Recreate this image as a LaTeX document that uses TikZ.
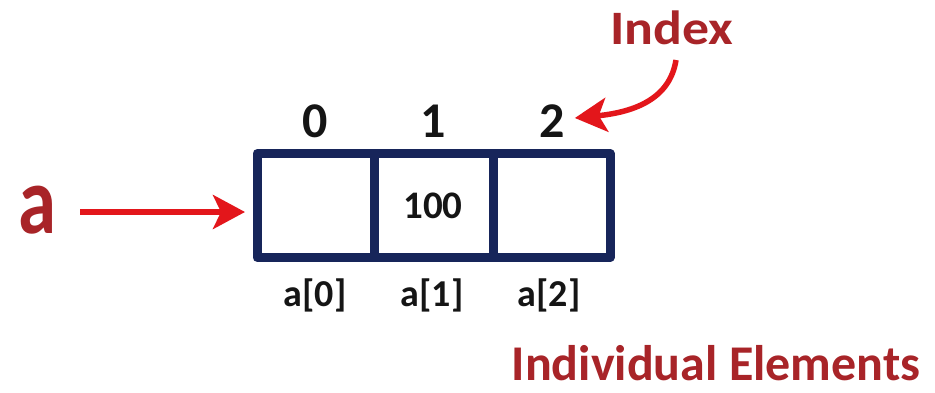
\documentclass[tikz,border=0pt]{standalone}
\usepackage{fontspec}
\setmainfont{Carlito}
\usetikzlibrary{arrows.meta}
\definecolor{navy}{HTML}{17255A}
\definecolor{txtred}{HTML}{A82428}
\definecolor{arrred}{HTML}{E3161B}
\definecolor{ink}{HTML}{151515}
\tikzset{
  cell/.style={draw=navy, line width=9pt, line join=round, inner sep=0pt, outer sep=0pt, minimum height=104pt},
  idx/.style={inner sep=0pt, text=ink, font=\bfseries\fontsize{50}{60}\selectfont},
  elem/.style={inner sep=0pt, text=ink, font=\bfseries\fontsize{38}{46}\selectfont},
  val/.style={inner sep=0pt, text=ink, font=\bfseries\fontsize{39}{46}\selectfont},
  redtxt/.style={inner sep=0pt, text=txtred, font=\bfseries\fontsize{48}{58}\selectfont},
  redarrow/.style={draw=arrred, line width=5.5pt, -{Stealth[length=32pt, width=34pt, inset=8pt]}},
}
\begin{document}
\begin{tikzpicture}[x=1pt, y=-1pt]
\useasboundingbox[fill=white] (0,0) rectangle (935,392);
% array cells
\node[cell, minimum width=117pt] (c0) at (315.5,205.5) {};
\node[cell, minimum width=119pt] (c1) at (433.5,205.5) {};
\node[cell, minimum width=117pt] (c2) at (551.5,205.5) {};
\node[val] (v1) at (433,205.5) {100};
% indices
\node[idx] (i0) at (315,121) {0};
\node[idx] (i1) at (433,121) {1};
\node[idx] (i2) at (552,121) {2};
% element names
\node[elem] (e0) at (315,295) {a[0]};
\node[elem] (e1) at (432,295) {a[1]};
\node[elem] (e2) at (549,295) {a[2]};
% variable name
\node[redtxt, font=\bfseries\fontsize{96}{110}\selectfont, xscale=0.8] (aname) at (37,210) {a};
\coordinate (astart) at (80,212);
\draw[redarrow] (astart) -- ([xshift=-12pt]c0.west |- astart);
% index label
\node[redtxt, xscale=1.12] (index) at (672,28) {Index};
\coordinate (istart) at (676,60);
\draw[redarrow] (istart) .. controls (670,98) and (636,112) .. ([xshift=10pt]i2.east |- 0,118);
% elements label
\node[redtxt, font=\bfseries\fontsize{50}{60}\selectfont] (elems) at (716,363.5) {Individual Elements};
\end{tikzpicture}
\end{document}
